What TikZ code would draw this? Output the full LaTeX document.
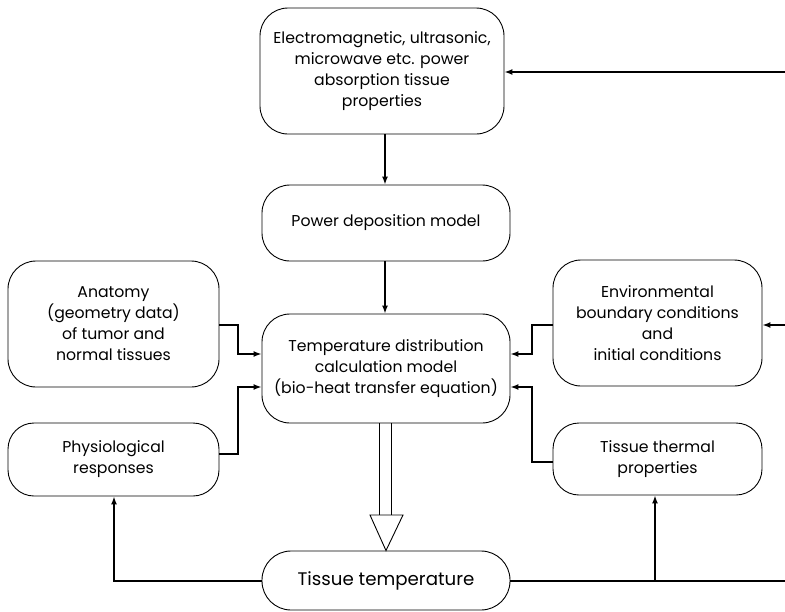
\documentclass[tikz,border=0pt]{standalone}
\usepackage{fontspec}
\setmainfont{Poppins}
\usetikzlibrary{arrows.meta,calc}
\begin{document}
\begin{tikzpicture}[x=1pt,y=-1pt,
  box/.style={draw,line width=0.9pt,rounded corners=28pt,align=center,inner sep=1pt,
    font=\fontsize{15.7}{21}\selectfont},
  conn/.style={line width=1.5pt},
  arr/.style={conn,-{Latex[length=8pt,width=6pt]}},
  hollow/.style={draw,line width=0.9pt,fill=white}]
\useasboundingbox (0,0) rectangle (785,611);
\node[box,minimum width=244pt,minimum height=126pt] (top) at (382,71)
  {Electromagnetic, ultrasonic,\\ microwave etc. power\\ absorption tissue\\ properties};
\node[box,minimum width=248pt,minimum height=76pt] (power) at (386,223) {Power deposition model};
\node[box,minimum width=248pt,minimum height=109pt] (temp) at (386,368.5)
  {Temperature distribution\\ calculation model\\ (bio-heat transfer equation)};
\node[box,minimum width=211pt,minimum height=126pt] (anat) at (113.5,324)
  {Anatomy\\ (geometry data)\\ of tumor and\\ normal tissues};
\node[box,rounded corners=26pt,minimum width=211pt,minimum height=73pt] (phys) at (113.5,459.5)
  {Physiological\\ responses};
\node[box,minimum width=209pt,minimum height=126pt] (env) at (657.5,323)
  {Environmental\\ boundary conditions\\ and\\ initial conditions};
\node[box,rounded corners=26pt,minimum width=209pt,minimum height=72pt] (therm) at (657.5,459)
  {Tissue thermal\\ properties};
\node[box,rounded corners=29pt,minimum width=248pt,minimum height=59pt,
  font=\fontsize{18.2}{22}\selectfont] (ttemp) at (386,580.5) {Tissue temperature};
% coordinates
\coordinate (r1) at (785,72);
\coordinate (r2) at (785,325);
\coordinate (r3) at (785,581);
% connectors
\draw[arr] (r1) -- (r1 -| top.east);
\draw[arr] (top.south -| 385,0) -- (power.north -| 385,0);
\draw[arr] (power.south -| 385,0) -- (temp.north -| 385,0);
\draw[arr] (anat.east |- 0,325) -- (238,325) -- (238,354) -- (temp.west |- 0,354);
\draw[arr] (phys.east |- 0,454) -- (238,454) -- (238,387) -- (temp.west |- 0,387);
\draw[arr] (env.west |- 0,325) -- (532,325) -- (532,354) -- (temp.east |- 0,354);
\draw[arr] (therm.west |- 0,462) -- (532,462) -- (532,387) -- (temp.east |- 0,387);
\draw[arr] (r2) -- (r2 -| env.east);
\draw[arr] (ttemp.west |- 0,581) -- (114,581) -- (phys.south -| 114,0);
\draw[conn] (ttemp.east |- 0,581) -- (r3);
\draw[arr] (655,581) -- (therm.south -| 655,0);
% hollow arrow
\draw[hollow] (temp.south -| 379.5,0) -- (379.5,515);
\draw[hollow] (temp.south -| 391.5,0) -- (391.5,515);
\draw[hollow] (370,515) -- (403,515) -- (ttemp.north -| 386,0) -- cycle;
\end{tikzpicture}
\end{document}
